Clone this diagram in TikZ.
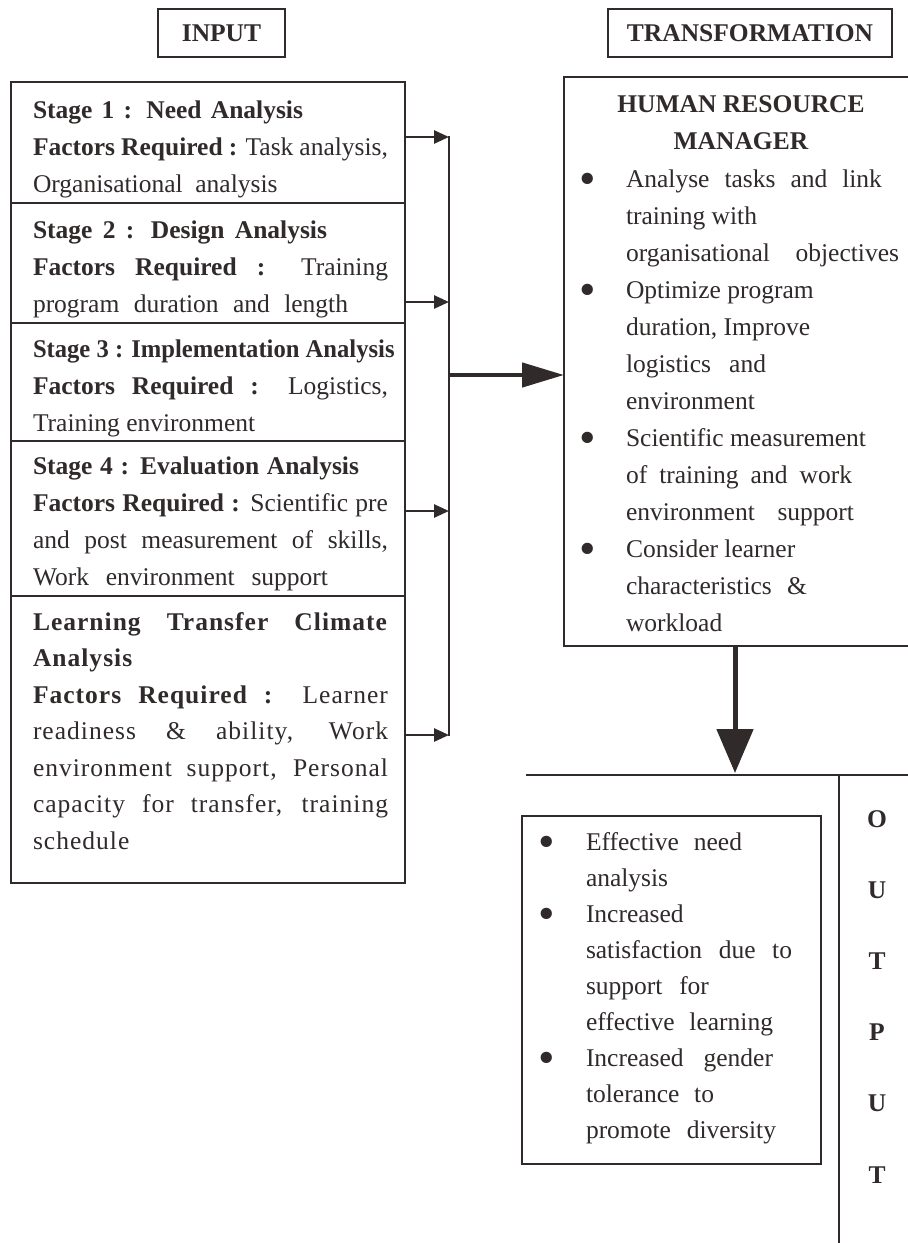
\documentclass[tikz,border=0pt]{standalone}
\usepackage{graphicx}
\usepackage{fontspec}
\setmainfont{Liberation Serif}
\usetikzlibrary{arrows.meta}
\definecolor{ink}{RGB}{48,42,42}

% one justified line of a given width
\newcommand\jline[2][355pt]{\makebox[#1][s]{#2}}
% a block of lines; its baseline is the baseline of the first line
\newcommand\blk[3][37]{\parbox[t]{#2}{\fontsize{25.5}{#1}\selectfont#3}}
% bullet column of the lists
\newcommand\bul[1]{\makebox[#1][l]{\hspace*{-4pt}\raisebox{-7.6pt}{\scalebox{1.85}{\textbullet}}}}
\newcommand\ls{\addfontfeatures{LetterSpace=4}}

\tikzset{
  frame/.style={draw=ink, line width=2.6pt, inner sep=0pt, outer sep=0pt, anchor=north west},
  title/.style={draw=ink, line width=2.6pt, inner sep=0pt, outer sep=0pt, minimum height=48pt,
                font=\fontsize{25.5}{30}\selectfont\bfseries, text=ink},
  txt/.style={anchor=base west, inner sep=0pt, outer sep=0pt, text=ink},
  ctxt/.style={anchor=base, inner sep=0pt, outer sep=0pt, text=ink},
  link/.style={draw=ink, line width=2.6pt, -{Triangle[length=15pt,width=13pt]}},
  feed/.style={draw=ink, line width=4.5pt, -{Triangle[length=42pt,width=24pt]}},
  drop/.style={draw=ink, line width=5pt, -{Triangle[length=44pt,width=36pt]}},
  rule/.style={draw=ink, line width=2.6pt, line cap=rect},
}

\begin{document}
\begin{tikzpicture}[x=1pt,y=-1pt]
\useasboundingbox (0,0) rectangle (908,1243);
\clip (0,0) rectangle (908,1243);
\fill[white] (0,0) rectangle (908,1243);

% column headings
\node[title, minimum width=127pt] (inhead) at (221.5,33) {INPUT};
\node[title, minimum width=284pt] (trhead) at (750,33) {TRANSFORMATION};

% input stages
\node[frame, minimum width=394pt, minimum height=121pt] (s1) at (11,82) {};
\node[frame, minimum width=394pt, minimum height=120pt] (s2) at (11,203) {};
\node[frame, minimum width=394pt, minimum height=118pt] (s3) at (11,323) {};
\node[frame, minimum width=394pt, minimum height=155pt] (s4) at (11,441) {};
\node[frame, minimum width=394pt, minimum height=287pt] (s5) at (11,596) {};

\node[txt] (t1) at (33,118) {\blk{360pt}{%
  \jline[270pt]{\textbf{Stage 1 : Need Analysis}}\\
  \jline{\textbf{Factors Required :} Task analysis,}\\
  Organisational\ \ analysis}};
\node[txt] (t2) at (33,238) {\blk{360pt}{%
  \jline[294pt]{\textbf{Stage 2 : Design Analysis}}\\
  \jline{\textbf{Factors Required :} Training}\\
  \jline[315pt]{program duration and length}}};
\node[txt] (t3) at (33,357) {\blk{360pt}{%
  \scalebox{0.965}[1]{\textbf{Stage 3 : Implementation Analysis}}\\
  \jline{\textbf{Factors Required :} Logistics,}\\
  Training environment}};
\node[txt] (t4) at (33,474) {\blk{360pt}{%
  \jline[326pt]{\textbf{Stage 4 : Evaluation Analysis}}\\
  \jline{\textbf{Factors Required :} Scientific pre}\\
  \jline{and post measurement of skills,}\\
  \jline[295pt]{Work environment support}}};
\node[txt] (t5) at (33,630) {\blk[36.5]{360pt}{\ls
  \jline{\textbf{Learning Transfer Climate}}\\
  \textbf{Analysis}\\
  \jline{\textbf{Factors Required :} Learner}\\
  \jline{readiness \& ability, Work}\\
  \jline{environment support, Personal}\\
  \jline{capacity for transfer, training}\\
  schedule}};

% collecting bus
\coordinate (b1) at (449,137);
\coordinate (b2) at (449,302);
\coordinate (bm) at (449,375);
\coordinate (b4) at (449,511);
\coordinate (b5) at (449,735);
\draw[rule] (b1) -- (b5);
\draw[link] (s1.east |- b1) -- (b1);
\draw[link] (s2.east |- b2) -- (b2);
\draw[link] (s4.east |- b4) -- (b4);
\draw[link] (s5.east |- b5) -- (b5);

% transformation
\node[frame, minimum width=360pt, minimum height=569pt] (hrm) at (564,77) {};
\draw[feed] (bm) -- (hrm.west |- bm);

\node[ctxt] (hrmtitle) at (741,112) {\blk{300pt}{\centering
  \textbf{HUMAN RESOURCE}\\ \textbf{MANAGER}}};
\node[txt] (hrmlist) at (583.5,187) {\blk{330pt}{%
  \bul{42.5pt}\jline[256pt]{Analyse tasks and link}\\
  \hspace*{42.5pt}training with\\
  \hspace*{42.5pt}\jline[273pt]{organisational objectives}\\
  \bul{42.5pt}Optimize program\\
  \hspace*{42.5pt}duration, Improve\\
  \hspace*{42.5pt}\jline[140pt]{logistics and}\\
  \hspace*{42.5pt}environment\\
  \bul{42.5pt}Scientific measurement\\
  \hspace*{42.5pt}\jline[226pt]{of training and work}\\
  \hspace*{42.5pt}\jline[228pt]{environment support}\\
  \bul{42.5pt}Consider learner\\
  \hspace*{42.5pt}\jline[181pt]{characteristics \&}\\
  \hspace*{42.5pt}workload}};

% output
\coordinate (dt) at (735,773);
\coordinate (hl) at (527,775);
\node[frame, minimum width=100pt, minimum height=500pt] (outcol) at (839,775) {};
\draw[rule] (hl) -- (outcol.north west);
\draw[drop] (hrm.south -| dt) -- (dt);

\node[ctxt] (outword) at (877,827) {\blk[71.2]{40pt}{\centering\bfseries
  O\\U\\T\\P\\U\\T}};

\node[frame, minimum width=299pt, minimum height=348pt] (out) at (522,816) {};
\node[txt] (outlist) at (542.5,850) {\blk[36]{280pt}{%
  \bul{43.5pt}\jline[156pt]{Effective need}\\
  \hspace*{43.5pt}analysis\\
  \bul{43.5pt}Increased\\
  \hspace*{43.5pt}\jline[206pt]{satisfaction due to}\\
  \hspace*{43.5pt}\jline[123pt]{support for}\\
  \hspace*{43.5pt}\jline[187pt]{effective learning}\\
  \bul{43.5pt}\jline[187pt]{Increased gender}\\
  \hspace*{43.5pt}\jline[128pt]{tolerance to}\\
  \hspace*{43.5pt}\jline[190pt]{promote diversity}}};
\end{tikzpicture}
\end{document}
